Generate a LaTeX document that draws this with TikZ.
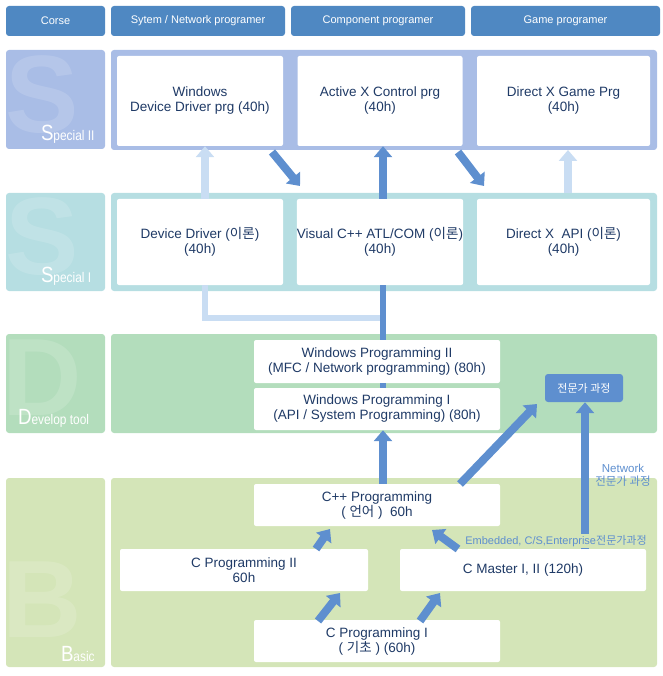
\documentclass[tikz,border=0pt]{standalone}
\usepackage{fontspec}
\setmainfont{Liberation Sans}
\newfontfamily\kr{Noto Sans CJK KR}
\usetikzlibrary{arrows.meta}
\definecolor{hdr}{HTML}{4F88C2}
\definecolor{sIIc}{HTML}{A9BDE6}
\definecolor{sIc}{HTML}{B6DEE2}
\definecolor{dc}{HTML}{B3DDBC}
\definecolor{bc}{HTML}{D4E5B8}
\definecolor{txt}{HTML}{1F3A66}
\definecolor{arr}{HTML}{5E8FCF}
\definecolor{larr}{HTML}{C9DDF3}
\tikzset{
 hbox/.style={fill=hdr,rounded corners=3pt,text=white,font=\fontsize{11}{12}\selectfont},
 wbox/.style={fill=white,rounded corners=2pt,text=txt,align=center,font=\fontsize{13.5}{15}\selectfont},
 big/.style={line width=8pt,-{Triangle[width=18pt,length=11pt]}},
 lab/.style={text=white,anchor=south west,inner sep=1pt,xscale=0.85},
 wm/.style={font=\fontsize{110}{110}\selectfont\bfseries,opacity=0.15,text=white}
}
\begin{document}
\begin{tikzpicture}[x=1pt,y=-1pt]
\useasboundingbox (0,0) rectangle (662,676);
% headers
\node[hbox,minimum width=99,minimum height=30] (h1) at (55.5,21) {Corse};
\node[hbox,minimum width=174,minimum height=30] (h2) at (198,21) {Sytem / Network programer};
\node[hbox,minimum width=174,minimum height=30] (h3) at (378,21) {Component programer};
\node[hbox,minimum width=189,minimum height=30] (h4) at (565.5,21) {Game programer};
% row backgrounds
\fill[sIIc,rounded corners=3pt] (6,50) rectangle (105,149);
\fill[sIIc,rounded corners=3pt] (111,50) rectangle (657,150);
\fill[sIc,rounded corners=3pt] (6,193) rectangle (105,291);
\fill[sIc,rounded corners=3pt] (111,193) rectangle (657,291);
\fill[dc,rounded corners=3pt] (6,334) rectangle (105,433);
\fill[dc,rounded corners=3pt] (111,334) rectangle (657,433);
\fill[bc,rounded corners=3pt] (6,478) rectangle (105,667);
\fill[bc,rounded corners=3pt] (111,478) rectangle (657,667);
% watermarks
\node[wm] (w1) at (42,95) {S};
\node[wm] (w2) at (42,237) {S};
\node[wm] (w3) at (42,378) {D};
\node[wm] (w4) at (42,600) {B};
\node[lab] (l1) at (40,145) {\fontsize{22}{22}\selectfont S\fontsize{14}{14}\selectfont pecial II};
\node[lab] (l2) at (40,287) {\fontsize{22}{22}\selectfont S\fontsize{14}{14}\selectfont pecial I};
\node[lab] (l3) at (17,429) {\fontsize{22}{22}\selectfont D\fontsize{14}{14}\selectfont evelop tool};
\node[lab] (l4) at (60,663) {\fontsize{22}{22}\selectfont B\fontsize{14}{14}\selectfont asic};
% special II
\node[wbox,minimum width=166,minimum height=90] (dd2) at (200,101) {Windows\\Device Driver prg (40h)};
\node[wbox,minimum width=165,minimum height=90] (ax) at (380,101) {Active X Control prg\\(40h)};
\node[wbox,minimum width=173,minimum height=90] (dx2) at (563.5,101) {Direct X Game Prg\\(40h)};
% special I
\node[wbox,minimum width=166,minimum height=86] (dd1) at (200,242) {Device Driver ({\kr 이론})\\(40h)};
\node[wbox,minimum width=165,minimum height=86,inner sep=0pt] (vc) at (380,242) {Visual C++ ATL/COM ({\kr 이론})\\(40h)};
\node[wbox,minimum width=173,minimum height=86] (dx1) at (563.5,242) {Direct X\ \ API ({\kr 이론})\\(40h)};
% develop
\node[wbox,minimum width=246,minimum height=43] (wp2) at (377,361.5) {Windows Programming II\\(MFC / Network programming) (80h)};
\node[wbox,minimum width=246,minimum height=42] (wp1) at (377,409) {Windows Programming I\\(API / System Programming) (80h)};
\node[fill=arr,rounded corners=3pt,text=white,minimum width=78,minimum height=28,font=\kr\fontsize{11}{12}\selectfont] (ex) at (584,388) {전문가 과정};
% basic
\node[wbox,minimum width=246,minimum height=42] (cpp) at (377,505) {C++ Programming\\( {\kr 언어} )\ \ 60h};
\node[wbox,minimum width=248,minimum height=42] (c2) at (244,570) {C Programming II\\60h};
\node[wbox,minimum width=246,minimum height=42] (cm) at (523,570) {C Master I, II (120h)};
\node[wbox,minimum width=246,minimum height=42] (c1) at (377,641) {C Programming I\\( {\kr 기초} ) (60h)};
% connectors special I -> develop
\coordinate (j1) at (205,318);
\coordinate (j2) at (383,318);
\draw[larr,line width=6pt] (dd1.south -| j1) -- (j1) -- (j2);
\draw[arr,line width=6pt] (vc.south -| j2) -- (wp2.north -| j2);
\draw[arr,line width=6pt] (wp2.south -| j2) -- (wp1.north -| j2);
% arrows between S rows
\draw[big,larr] (dd1.north -| j1) -- (dd2.south -| j1);
\draw[big,larr] (568,193) -- (568,150);
\draw[big,arr] (vc.north -| j2) -- (ax.south -| j2);
\coordinate (a1) at (272,152); \coordinate (a2) at (300,186);
\draw[big,arr] (a1) -- (a2);
\coordinate (a3) at (458,152); \coordinate (a4) at (484,186);
\draw[big,arr] (a3) -- (a4);
% basic arrows
\draw[big,arr] (cpp.north -| j2) -- (wp1.south -| j2);
\coordinate (b1) at (460,484); \coordinate (b2) at (537,404);
\draw[big,arr] (b1) -- (b2);
\coordinate (b3) at (585,549);
\draw[big,arr] (b3) -- (ex.south -| b3);
\node[text=arr,align=center,font=\fontsize{11.5}{13}\selectfont,inner sep=1pt] (nl) at (623,475) {Network\\{\kr 전문가 과정}};
\coordinate (b4) at (458,549); \coordinate (b5) at (432,530);
\draw[big,arr] (b4) -- (b5);
\node[text=arr,font=\fontsize{11}{12}\selectfont,fill=bc,inner sep=1pt] (el) at (556,541) {Embedded, C/S,Enterprise{\kr 전문가과정}};
\coordinate (c1a) at (318,621); \coordinate (c1b) at (340,593);
\draw[big,arr] (c1a) -- (c1b);
\coordinate (c1c) at (420,621); \coordinate (c1d) at (440,593);
\draw[big,arr] (c1c) -- (c1d);
\coordinate (c2a) at (316,549); \coordinate (c2b) at (330,529);
\draw[big,arr] (c2a) -- (c2b);
\end{tikzpicture}
\end{document}
